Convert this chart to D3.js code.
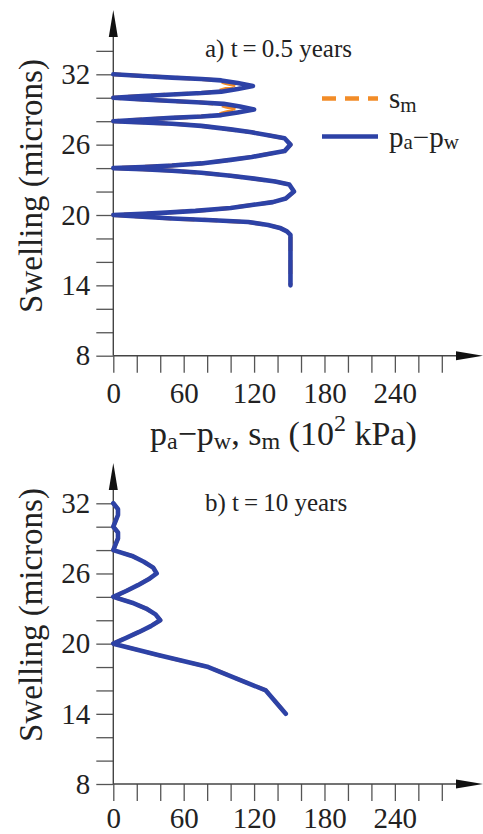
<!DOCTYPE html>
<html lang="en">
<head>
	<title>Swelling profiles</title>
	<script type="text/javascript" src="https://d3js.org/d3.v7.min.js"></script>
	<style>
		body { margin: 0; background: #fff; }
		svg text { font-family: "Liberation Serif", "Times New Roman", serif; fill: #222; }
		.axis line { stroke: #555; stroke-width: 1.3; }
		.axis text { font-size: 29px; }
		.axisLine { stroke: #444; stroke-width: 1.4; }
		.arrow { fill: #111; }
	</style>
</head>
<body>
	<div id="chart"></div>

	<script type="text/javascript">
	// values (swelling in microns, pressure in 10^2 kPa)
	var swellA = [32, 31.85, 31.72, 31.6, 31.48, 31.25, 31, 30.75, 30.52, 30.4, 30.28, 30.15, 30,
		29.85, 29.72, 29.6, 29.48, 29.25, 29, 28.75, 28.52, 28.4, 28.28, 28.15, 28,
		27.9, 27.78, 27.6, 27.3, 27.05, 26.8, 26.55, 26, 25.45, 25.2, 24.95, 24.7, 24.4, 24.22, 24.1, 24,
		23.9, 23.78, 23.6, 23.35, 23.1, 22.85, 22.6, 22, 21.4, 21.1, 20.85, 20.6, 20.35, 20.2, 20.1, 20,
		19.85, 19.7, 19.55, 19.4, 19.15, 18.9, 18.6, 18.3, 17, 14];
	var pressA = [0, 25, 50, 75, 92, 106, 119, 106, 92, 75, 50, 25, 0,
		25, 50, 75, 94, 108, 120, 106, 92, 75, 50, 25, 0,
		25, 50, 75, 100, 118, 132, 146, 151, 146, 132, 118, 100, 75, 50, 25, 0,
		25, 50, 75, 100, 120, 138, 150, 154, 147, 136, 118, 100, 70, 45, 25, 0,
		25, 50, 85, 115, 132, 142, 148, 151, 151, 151];
	var suctionA = [0, 25, 50, 75, 88, 96, 107, 96, 88, 75, 50, 25, 0,
		25, 50, 75, 88, 96, 107, 96, 88, 75, 50, 25, 0,
		25, 50, 75, 100, 118, 132, 146, 151, 146, 132, 118, 100, 75, 50, 25, 0,
		25, 50, 75, 100, 120, 138, 150, 154, 147, 136, 118, 100, 70, 45, 25, 0,
		25, 50, 85, 115, 132, 142, 148, 151, 151, 151];

	var swellB = [32, 31.5, 31, 30.5, 30, 29.5, 29, 28.5, 28, 27.5, 27, 26.5, 26, 25.5, 25, 24.5, 24,
		23.5, 23, 22.5, 22, 21.5, 21, 20.5, 20, 19, 18, 16, 14];
	var pressB = [0, 4, 4, 2, 0, 4, 4, 2, 0, 16, 26, 34, 37, 30, 21, 11, 0,
		16, 28, 36, 40, 32, 22, 11, 0, 39, 81, 130, 147];
	var suctionB = [0, 4, 4, 2, 0, 4, 4, 2, 0, 16, 26, 34, 37, 30, 21, 11, 0,
		16, 28, 36, 40, 32, 22, 11, 0, 39, 81, 130, 147];

	var xMinor = d3.range(0, 300, 20);
	var xLabels = [0, 60, 120, 180, 240];
	var yMinor = d3.range(8, 36, 2);
	var yLabels = [8, 14, 20, 26, 32];

	var w = 483,
	    h = 834;

	var blue = "#2d42a6",
	    orange = "#f28c28";

	var svg = d3.select("#chart")
		.append("svg")
		.attr("width", w)
		.attr("height", h);

	var x = d3.scaleLinear().domain([0, 280]).range([113.3, 441.8]);

	function panel(o) {
		var y = d3.scaleLinear().domain([8, 32]).range([o.bottom, o.top32]);
		var g = svg.append("g");

		// ticks + labels
		g.append("g")
			.attr("class", "axis")
			.attr("transform", "translate(" + x(0) + ",0)")
			.call(d3.axisLeft(y)
				.tickValues(yMinor.filter(function(d) { return y(d) > o.arrowTop + 30; }))
				.tickSize(17).tickPadding(6)
				.tickFormat(function(d) { return yLabels.indexOf(d) >= 0 ? d : ""; }))
			.call(function(a) { a.select(".domain").remove(); });

		g.append("g")
			.attr("class", "axis")
			.attr("transform", "translate(0," + o.bottom + ")")
			.call(d3.axisBottom(x)
				.tickValues(xMinor)
				.tickSize(17).tickPadding(o.pad)
				.tickFormat(function(d) { return xLabels.indexOf(d) >= 0 ? d : ""; }))
			.call(function(a) { a.select(".domain").remove(); });

		// axis lines with arrows
		g.append("line").attr("class", "axisLine")
			.attr("x1", x(0)).attr("x2", x(0))
			.attr("y1", o.bottom).attr("y2", o.arrowTop + 20);
		g.append("path").attr("class", "arrow")
			.attr("d", "M" + x(0) + "," + o.arrowTop + " L" + (x(0) - 4.5) + "," + (o.arrowTop + 27) +
				" L" + (x(0) + 4.5) + "," + (o.arrowTop + 27) + "Z");
		g.append("line").attr("class", "axisLine")
			.attr("x1", x(0)).attr("x2", 465)
			.attr("y1", o.bottom).attr("y2", o.bottom);
		g.append("path").attr("class", "arrow")
			.attr("d", "M483," + o.bottom + " L456," + (o.bottom - 4.5) + " L456," + (o.bottom + 4.5) + "Z");

		// y title
		g.append("text")
			.attr("transform", "translate(42," + o.titleY + ") rotate(-90)")
			.attr("text-anchor", "middle")
			.style("font-size", "33px")
			.text("Swelling (microns)");

		// panel label
		g.append("text")
			.attr("x", 205).attr("y", o.labelY)
			.style("font-size", "25px")
			.text(o.label);

		var line = d3.line()
			.x(function(d) { return x(d[1]); })
			.y(function(d) { return y(d[0]); });

		// s_m first (dashed, orange), then pa-pw on top
		g.append("path")
			.datum(d3.zip(o.swell, o.suction))
			.attr("d", line)
			.attr("fill", "none")
			.attr("stroke", orange)
			.attr("stroke-width", 4)
			.attr("stroke-linejoin", "round")
			.attr("stroke-dasharray", "14,9")
			.attr("stroke-dashoffset", 6);
		g.append("path")
			.datum(d3.zip(o.swell, o.press))
			.attr("d", line)
			.attr("fill", "none")
			.attr("stroke", blue)
			.attr("stroke-width", 4.6)
			.attr("stroke-linejoin", "round")
			.attr("stroke-linecap", "round");
	}

	panel({ bottom: 355.7, top32: 74.3, arrowTop: 10, titleY: 186, labelY: 57, pad: 10,
		label: "a) t\u2009=\u20090.5 years", swell: swellA, press: pressA, suction: suctionA });
	panel({ bottom: 784, top32: 503.3, arrowTop: 463, titleY: 615, labelY: 511, pad: 6,
		label: "b) t\u2009=\u200910 years", swell: swellB, press: pressB, suction: suctionB });

	// legend (panel a)
	var leg = svg.append("g");
	leg.append("line").attr("x1", 322).attr("x2", 378).attr("y1", 98.5).attr("y2", 98.5)
		.attr("stroke", orange).attr("stroke-width", 4.5).attr("stroke-dasharray", "14,9");
	leg.append("line").attr("x1", 322).attr("x2", 378).attr("y1", 136.5).attr("y2", 136.5)
		.attr("stroke", blue).attr("stroke-width", 4.5);
	var t1 = leg.append("text").attr("x", 389).attr("y", 108).style("font-size", "29px");
	t1.append("tspan").text("s");
	t1.append("tspan").attr("dy", 4).style("font-size", "21px").text("m");
	var t2 = leg.append("text").attr("x", 389).attr("y", 147).style("font-size", "29px");
	t2.append("tspan").text("p");
	t2.append("tspan").attr("dy", 2).style("font-size", "21px").text("a");
	t2.append("tspan").attr("dy", -2).text("\u2212p");
	t2.append("tspan").attr("dy", 2).style("font-size", "21px").text("w");

	// x title
	var xt = svg.append("text").attr("x", 150).attr("y", 445).style("font-size", "34px");
	xt.append("tspan").text("p");
	xt.append("tspan").attr("dy", 4).style("font-size", "24px").text("a");
	xt.append("tspan").attr("dy", -4).text("\u2212p");
	xt.append("tspan").attr("dy", 4).style("font-size", "24px").text("w");
	xt.append("tspan").attr("dy", -4).text(", s");
	xt.append("tspan").attr("dy", 4).style("font-size", "24px").text("m");
	xt.append("tspan").attr("dy", -4).text(" (10");
	xt.append("tspan").attr("dy", -14).style("font-size", "24px").text("2");
	xt.append("tspan").attr("dy", 14).text(" kPa)");
	</script>
</body>
</html>
